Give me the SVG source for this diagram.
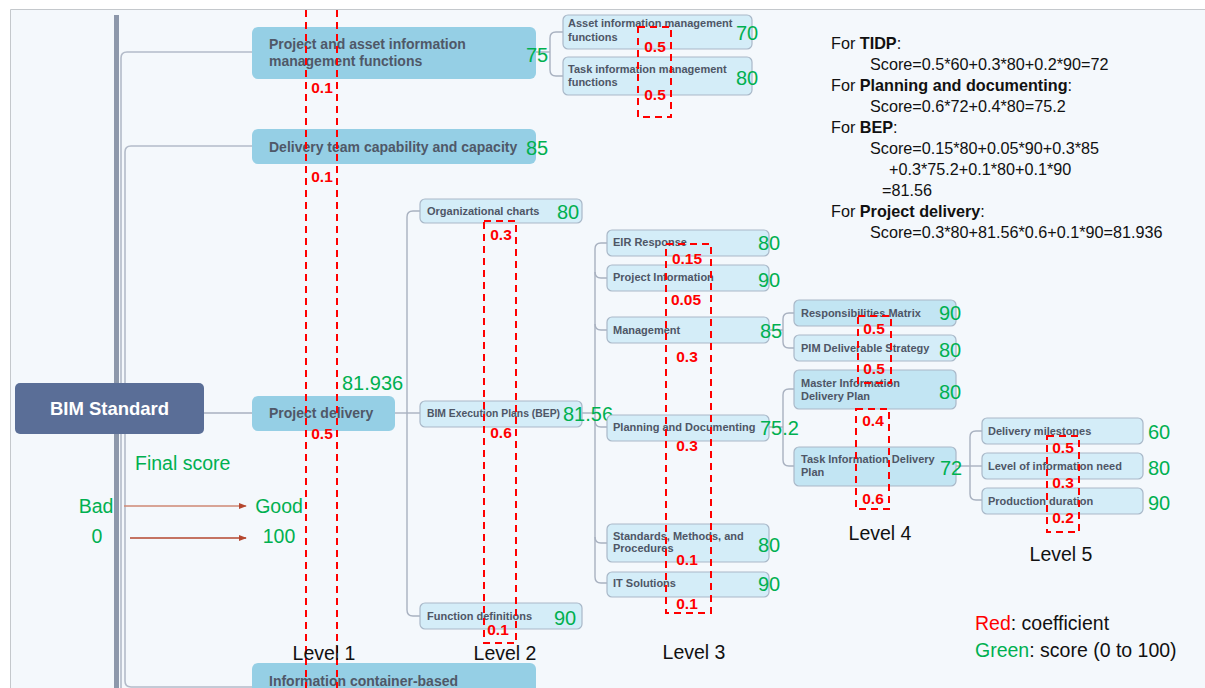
<svg xmlns="http://www.w3.org/2000/svg" width="1205" height="688" viewBox="0 0 1205 688">
<defs>
<style>
.bg{fill:#f4f8fc}
.n1{fill:#95cfe5}
.n2{fill:#d4edf8;stroke:#a9b8c8;stroke-width:1.2}
.n4{fill:#c2e5f3;stroke:#a9b8c8;stroke-width:1.2}
.t1{font-family:"Liberation Sans",Arial,sans-serif;font-weight:bold;font-size:14px;fill:#4f5868}
.t2{font-family:"Liberation Sans",Arial,sans-serif;font-weight:bold;font-size:11px;fill:#4e5666}
.sc{font-family:"Liberation Sans",Arial,sans-serif;font-size:20px;fill:#00b050}
.co{font-family:"Liberation Sans",Arial,sans-serif;font-weight:bold;font-size:15.5px;fill:#ff0000;text-anchor:middle}
.lv{font-family:"Liberation Sans",Arial,sans-serif;font-size:19.5px;fill:#111;text-anchor:middle}
.lg{font-family:"Liberation Sans",Arial,sans-serif;font-size:19.5px;fill:#111}
.fm{font-family:"Liberation Sans",Arial,sans-serif;font-size:16.2px;fill:#111}
.gr{font-family:"Liberation Sans",Arial,sans-serif;font-size:19.5px;fill:#00b050}
.cn{fill:none;stroke:#a8b1c0;stroke-width:1.4}
.tr{fill:none;stroke:#b3bbc9;stroke-width:1.6}
.rd{fill:none;stroke:#ff0000;stroke-width:2;stroke-dasharray:7 5}
</style>
<marker id="ah" viewBox="0 0 10 10" refX="9" refY="5" markerWidth="8" markerHeight="8" markerUnits="userSpaceOnUse" orient="auto">
<path d="M0,1 L10,5 L0,9 Z" fill="#b5472f"/>
</marker>
</defs>

<rect x="0" y="0" width="1205" height="688" fill="#ffffff"/>
<rect class="bg" x="10.5" y="9.5" width="1195" height="679"/>
<path d="M10.5,688 V9.5 H1205" fill="none" stroke="#c4c8cc" stroke-width="1"/>

<g id="connectors">
<rect x="114" y="15" width="5" height="673" fill="#8d98ab"/>
<path class="tr" d="M252,52 H127 Q121,52 121,58 V688"/>
<path class="tr" d="M252,146 H131 Q125,146 125,152 V681 Q125,687 131,687 H252"/>
<path class="cn" d="M204,413 H252"/>
<path class="cn" d="M536,52 H550"/>
<path class="cn" d="M563,32 H556 Q550,32 550,38 V70 Q550,76 556,76 H563"/>
<path class="cn" d="M395,413 H420"/>
<path class="cn" d="M420,211 H413 Q407,211 407,217 V610 Q407,616 413,616 H420"/>
<path class="cn" d="M582,413 H595"/>
<path class="cn" d="M607,243 H601 Q595,243 595,249 V577 Q595,583 601,583 H607"/>
<path class="cn" d="M595,272 Q595,278 601,278 H607"/>
<path class="cn" d="M595,324 Q595,330 601,330 H607"/>
<path class="cn" d="M595,421 Q595,427 601,427 H607"/>
<path class="cn" d="M595,537 Q595,543 601,543 H607"/>
<path class="cn" d="M769,330 H783"/>
<path class="cn" d="M795,313 H789 Q783,313 783,319 V342 Q783,348 789,348 H795"/>
<path class="cn" d="M769,427 H783"/>
<path class="cn" d="M795,389 H789 Q783,389 783,395 V460 Q783,466 789,466 H795"/>
<path class="cn" d="M956,466 H982"/>
<path class="cn" d="M982,431 H976 Q970,431 970,437 V494 Q970,500 976,500 H982"/>
<path d="M124,506 H246" stroke="#cf8875" stroke-width="1.6" fill="none" marker-end="url(#ah)"/>
<path d="M130,538 H246" stroke="#b5472f" stroke-width="1.3" fill="none" marker-end="url(#ah)"/>
</g>

<g id="bim-standard">
<rect x="15" y="383" width="189" height="51" rx="5" fill="#5a6e97"/>
<text x="109.5" y="415" text-anchor="middle" font-family="Liberation Sans,Arial,sans-serif" font-weight="bold" font-size="18.5px" fill="#ffffff">BIM Standard</text>
</g>

<g id="pai-functions">
<rect class="n1" x="252" y="27" width="284" height="52" rx="6"/>
<text class="t1" x="269" y="49">Project and asset information</text>
<text class="t1" x="269" y="66">management functions</text>
<text class="sc" x="526" y="62">75</text>
</g>
<g id="delivery-team">
<rect class="n1" x="252" y="129" width="284" height="35" rx="6"/>
<text class="t1" x="269" y="152">Delivery team capability and capacity</text>
<text class="sc" x="526" y="155">85</text>
</g>
<g id="project-delivery">
<rect class="n1" x="252" y="396" width="143" height="35" rx="6"/>
<text class="t1" x="269" y="418">Project delivery</text>
<text class="sc" x="342" y="390">81.936</text>
</g>
<g id="info-container">
<rect class="n1" x="252" y="663" width="284" height="40" rx="6"/>
<text class="t1" x="269" y="686">Information container-based</text>
</g>

<g id="asset-info">
<rect class="n2" x="563" y="15" width="189" height="34" rx="5"/>
<text class="t2" x="568" y="27">Asset information management</text>
<text class="t2" x="568" y="41">functions</text>
<text class="sc" x="736" y="40">70</text>
</g>
<g id="task-info">
<rect class="n2" x="563" y="57" width="189" height="38" rx="5"/>
<text class="t2" x="568" y="73">Task information management</text>
<text class="t2" x="568" y="86">functions</text>
<text class="sc" x="736" y="85">80</text>
</g>

<g id="org-charts">
<rect class="n2" x="420" y="199" width="162" height="24" rx="5"/>
<text class="t2" x="427" y="215">Organizational charts</text>
<text class="sc" x="557" y="219">80</text>
</g>
<g id="bep">
<rect class="n2" x="420" y="401" width="162" height="26" rx="5"/>
<text class="t2" x="427" y="417" textLength="133" lengthAdjust="spacingAndGlyphs">BIM Execution Plans (BEP)</text>
<text class="sc" x="563" y="421">81.56</text>
</g>
<g id="function-definitions">
<rect class="n2" x="420" y="603" width="162" height="26" rx="5"/>
<text class="t2" x="427" y="620">Function definitions</text>
<text class="sc" x="554" y="625">90</text>
</g>

<g id="eir-response">
<rect class="n2" x="607" y="230" width="162" height="26" rx="5"/>
<text class="t2" x="613" y="246">EIR Response</text>
<text class="sc" x="758" y="250">80</text>
</g>
<g id="project-information">
<rect class="n2" x="607" y="265" width="162" height="26" rx="5"/>
<text class="t2" x="613" y="281">Project Information</text>
<text class="sc" x="758" y="287">90</text>
</g>
<g id="management">
<rect class="n2" x="607" y="317" width="162" height="26" rx="5"/>
<text class="t2" x="613" y="334">Management</text>
<text class="sc" x="760" y="338">85</text>
</g>
<g id="planning-documenting">
<rect class="n2" x="607" y="415" width="162" height="26" rx="5"/>
<text class="t2" x="613" y="431">Planning and Documenting</text>
<text class="sc" x="760" y="435">75.2</text>
</g>
<g id="standards">
<rect class="n2" x="607" y="524" width="162" height="38" rx="5"/>
<text class="t2" x="613" y="540">Standards, Methods, and</text>
<text class="t2" x="613" y="552">Procedures</text>
<text class="sc" x="758" y="552">80</text>
</g>
<g id="it-solutions">
<rect class="n2" x="607" y="572" width="162" height="25" rx="5"/>
<text class="t2" x="613" y="587">IT Solutions</text>
<text class="sc" x="758" y="591">90</text>
</g>

<g id="responsibilities-matrix">
<rect class="n4" x="794" y="300" width="162" height="26" rx="5"/>
<text class="t2" x="801" y="317">Responsibilities Matrix</text>
<text class="sc" x="939" y="320">90</text>
</g>
<g id="pim-strategy">
<rect class="n2" x="794" y="335" width="162" height="26" rx="5"/>
<text class="t2" x="801" y="352">PIM Deliverable Strategy</text>
<text class="sc" x="939" y="357">80</text>
</g>
<g id="midp">
<rect class="n4" x="794" y="370" width="162" height="39" rx="5"/>
<text class="t2" x="801" y="387">Master Information</text>
<text class="t2" x="801" y="400">Delivery Plan</text>
<text class="sc" x="939" y="399">80</text>
</g>
<g id="tidp">
<rect class="n4" x="794" y="447" width="162" height="39" rx="5"/>
<text class="t2" x="801" y="463">Task Information Delivery</text>
<text class="t2" x="801" y="476">Plan</text>
<text class="sc" x="940" y="475">72</text>
</g>

<g id="delivery-milestones">
<rect class="n2" x="982" y="418" width="161" height="26" rx="5"/>
<text class="t2" x="988" y="435">Delivery milestones</text>
<text class="sc" x="1148" y="439">60</text>
</g>
<g id="loin">
<rect class="n2" x="982" y="453" width="161" height="26" rx="5"/>
<text class="t2" x="988" y="470">Level of information need</text>
<text class="sc" x="1148" y="475">80</text>
</g>
<g id="production-duration">
<rect class="n2" x="982" y="488" width="161" height="26" rx="5"/>
<text class="t2" x="988" y="505">Production duration</text>
<text class="sc" x="1148" y="510">90</text>
</g>

<g id="coefficients">
<path class="rd" d="M306,10 V688 M337,10 V688"/>
<rect class="rd" x="638" y="27" width="33" height="90"/>
<rect class="rd" x="484" y="221" width="32" height="422"/>
<rect class="rd" x="666" y="244" width="45" height="369"/>
<rect class="rd" x="858" y="316" width="33" height="67"/>
<rect class="rd" x="856" y="409" width="33" height="100"/>
<rect class="rd" x="1047" y="436" width="32" height="96"/>
<text class="co" x="322" y="93">0.1</text>
<text class="co" x="322" y="182">0.1</text>
<text class="co" x="322" y="439">0.5</text>
<text class="co" x="655" y="52">0.5</text>
<text class="co" x="655" y="100">0.5</text>
<text class="co" x="501" y="240">0.3</text>
<text class="co" x="501" y="438">0.6</text>
<text class="co" x="498" y="635">0.1</text>
<text class="co" x="687" y="264">0.15</text>
<text class="co" x="686" y="305">0.05</text>
<text class="co" x="687" y="362">0.3</text>
<text class="co" x="687" y="451">0.3</text>
<text class="co" x="687" y="565">0.1</text>
<text class="co" x="687" y="609">0.1</text>
<text class="co" x="874" y="334">0.5</text>
<text class="co" x="874" y="374">0.5</text>
<text class="co" x="873" y="426">0.4</text>
<text class="co" x="873" y="504">0.6</text>
<text class="co" x="1063" y="453">0.5</text>
<text class="co" x="1063" y="488">0.3</text>
<text class="co" x="1063" y="523">0.2</text>
</g>

<g id="level-labels">
<text class="lv" x="324" y="660">Level 1</text>
<text class="lv" x="505" y="660">Level 2</text>
<text class="lv" x="694" y="659">Level 3</text>
<text class="lv" x="880" y="540">Level 4</text>
<text class="lv" x="1061" y="561">Level 5</text>
</g>

<g id="score-scale">
<text class="gr" x="135" y="470">Final score</text>
<text class="gr" x="96" y="513" text-anchor="middle">Bad</text>
<text class="gr" x="97" y="543" text-anchor="middle">0</text>
<text class="gr" x="279" y="513" text-anchor="middle">Good</text>
<text class="gr" x="279" y="543" text-anchor="middle">100</text>
</g>

<g id="formulas">
<text class="fm" x="831" y="49">For <tspan font-weight="bold">TIDP</tspan>:</text>
<text class="fm" x="870" y="70">Score=0.5*60+0.3*80+0.2*90=72</text>
<text class="fm" x="831" y="91">For <tspan font-weight="bold">Planning and documenting</tspan>:</text>
<text class="fm" x="870" y="112">Score=0.6*72+0.4*80=75.2</text>
<text class="fm" x="831" y="133">For <tspan font-weight="bold">BEP</tspan>:</text>
<text class="fm" x="870" y="154">Score=0.15*80+0.05*90+0.3*85</text>
<text class="fm" x="889" y="175">+0.3*75.2+0.1*80+0.1*90</text>
<text class="fm" x="882" y="196">=81.56</text>
<text class="fm" x="831" y="217">For <tspan font-weight="bold">Project delivery</tspan>:</text>
<text class="fm" x="870" y="238">Score=0.3*80+81.56*0.6+0.1*90=81.936</text>
</g>

<g id="legend">
<text class="lg" x="975" y="630"><tspan fill="#ff0000">Red</tspan>: coefficient</text>
<text class="lg" x="975" y="657"><tspan fill="#00b050">Green</tspan>: score (0 to 100)</text>
</g>
</svg>
